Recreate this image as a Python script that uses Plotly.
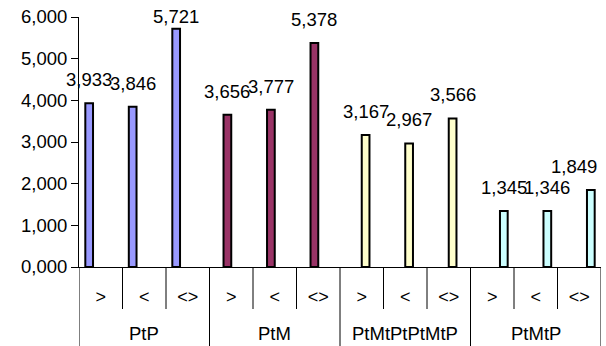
import plotly.graph_objects as go

# Category structure
groups = ["PtP", "PtM", "PtMtPtPtMtP", "PtMtP"]
subcats = [">", "<", "<>"]

# Values per group (in order >, <, <>)
ptp_values = [3.933, 3.846, 5.721]
ptm_values = [3.656, 3.777, 5.378]
ptmtptptmtp_values = [3.167, 2.967, 3.566]
ptmtp_values = [1.345, 1.346, 1.849]

y_tickvals = [0, 1, 2, 3, 4, 5, 6]

series = [ptp_values, ptm_values, ptmtptptmtp_values, ptmtp_values]
colors = ["#9999FF", "#993366", "#FFFFCC", "#CCFFFF"]

FONT = "Liberation Sans, Arial, sans-serif"
W, H = 606, 346
M_L, M_R, M_T, M_B = 79, 5, 17, 79
plot_w = W - M_L - M_R
plot_h = H - M_T - M_B
Y_MAX = y_tickvals[-1]

n_sub = len(subcats)
n_cat = len(groups) * n_sub
px_per_cat = plot_w / n_cat

# clustered layout: every category slot reserves room for all series side by side
bargap = 0.29
bar_w = (1 - bargap) / len(series)

LABEL_SIZE = 18.5
label_half_w = 2.5 * LABEL_SIZE / 2   # approx. half width of "d,ddd"
LABEL_GAP = 16                         # space between bar top and label text
LABEL_MIN_BOTTOM = 24                  # keep labels inside the figure top


def fmt(v):
    return f"{v:.3f}".replace(".", ",")


fig = go.Figure()
annotations = []
for gi, (name, vals, col) in enumerate(zip(groups, series, colors)):
    xs = [gi * n_sub + si for si in range(n_sub)]
    offset = -(1 - bargap) / 2 + gi * bar_w
    fig.add_trace(go.Bar(
        x=xs, y=vals, name=name,
        width=bar_w, offset=offset,
        marker=dict(color=col, line=dict(color="black", width=2)),
        hoverinfo="skip",
    ))
    # value labels above each bar, kept inside the chart's edges
    for x, v in zip(xs, vals):
        xc = x + offset + bar_w / 2
        right_px = (xc + 0.5) * px_per_cat + label_half_w
        xshift = min(0, plot_w - 4 - right_px)
        bar_top = M_T + (Y_MAX - v) / Y_MAX * plot_h
        text_bottom = max(bar_top - LABEL_GAP, LABEL_MIN_BOTTOM)
        yshift = bar_top - text_bottom - 5
        annotations.append(dict(
            x=xc, xref="x", y=v, yref="y", text=fmt(v),
            showarrow=False, xanchor="center", yanchor="bottom",
            xshift=xshift, yshift=yshift,
            font=dict(family=FONT, size=LABEL_SIZE, color="black"),
        ))

shapes = []
for b in range(n_cat + 1):
    depth = M_B if b % n_sub == 0 else 42
    shapes.append(dict(
        type="line", xref="x", yref="paper",
        x0=b - 0.5, x1=b - 0.5, y0=0, y1=-depth / plot_h,
        line=dict(color="black", width=1),
    ))

for gi, name in enumerate(groups):
    annotations.append(dict(
        x=gi * n_sub + (n_sub - 1) / 2, xref="x",
        y=-(333 - (H - M_B)) / plot_h, yref="paper",
        text=name, showarrow=False, yanchor="middle", xanchor="center",
        font=dict(family=FONT, size=18.5, color="black"),
    ))

fig.update_layout(
    width=W, height=H,
    margin=dict(l=M_L, r=M_R, t=M_T, b=M_B),
    paper_bgcolor="white", plot_bgcolor="white",
    showlegend=False,
    font=dict(family=FONT, size=18, color="black"),
    separators=",.",
    shapes=shapes, annotations=annotations,
)
fig.update_xaxes(
    range=[-0.5, n_cat - 0.5],
    tickmode="array", tickvals=list(range(n_cat)),
    ticktext=subcats * len(groups),
    ticks="", showgrid=False, zeroline=False,
    showline=True, linecolor="black", linewidth=1,
    ticklabelstandoff=13,
    tickfont=dict(family=FONT, size=18, color="black"),
)
fig.update_yaxes(
    range=[0, Y_MAX], tickmode="array", tickvals=y_tickvals,
    tickformat=".3f",
    ticks="outside", ticklen=7, tickcolor="black", tickwidth=1,
    showgrid=False, zeroline=False,
    showline=True, linecolor="black", linewidth=1,
    tickfont=dict(family=FONT, size=18.5, color="black"),
)

fig.write_html("out.html")
